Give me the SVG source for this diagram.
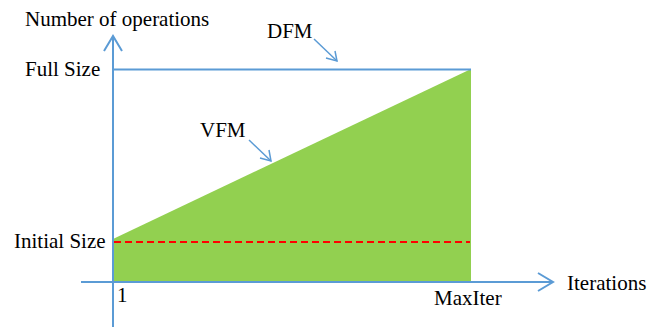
<svg xmlns="http://www.w3.org/2000/svg" width="667" height="327" viewBox="0 0 667 327">
  <defs>
    <style>
      .lbl { font-family: "Liberation Serif", "Times New Roman", serif; font-size: 21px; fill: #000; }
      .axis { stroke: #5B9BD5; stroke-width: 2; fill: none; }
      .ptr { stroke: #5B9BD5; stroke-width: 1.5; fill: none; }
    </style>
  </defs>
  <rect width="667" height="327" fill="#fff"/>

  <!-- VFM area -->
  <g id="vfm-area">
    <polygon points="113,239 471,69 471,282 113,282" fill="#92D050"/>
  </g>

  <!-- initial size level -->
  <g id="initial-level">
    <line x1="114" y1="242" x2="470" y2="242" stroke="#FF0000" stroke-width="2" stroke-dasharray="7,4"/>
  </g>

  <g id="connectors">
    <!-- DFM full-size line -->
    <line class="axis" x1="113" y1="69.5" x2="471" y2="69.5"/>
    <!-- axes -->
    <line class="axis" x1="113" y1="327" x2="113" y2="36"/>
    <polyline class="axis" points="104,51 113,36 122,51"/>
    <line class="axis" x1="81" y1="282" x2="553" y2="282"/>
    <polyline class="axis" points="538,273 553,282 538,291"/>
    <!-- label pointers -->
    <line class="ptr" x1="314" y1="39" x2="337" y2="61"/>
    <polyline class="ptr" points="326,58 337,61 335,51"/>
    <line class="ptr" x1="249" y1="140" x2="271" y2="161"/>
    <polyline class="ptr" points="260,158 271,161 269,150"/>
  </g>

  <g id="labels">
    <text class="lbl" x="25" y="26">Number of operations</text>
    <text class="lbl" x="25" y="76">Full Size</text>
    <text class="lbl" x="14" y="248">Initial Size</text>
    <text class="lbl" x="267" y="38">DFM</text>
    <text class="lbl" x="200" y="137">VFM</text>
    <text class="lbl" x="117" y="302">1</text>
    <text class="lbl" x="434" y="305">MaxIter</text>
    <text class="lbl" x="567" y="290">Iterations</text>
  </g>
</svg>
